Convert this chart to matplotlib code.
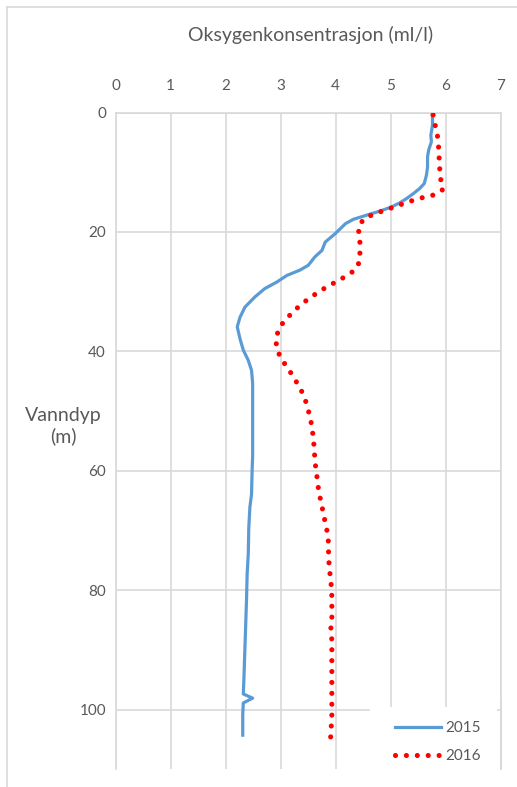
import matplotlib
matplotlib.use("Agg")
import matplotlib.pyplot as plt
from matplotlib.lines import Line2D
from matplotlib.patches import Rectangle

plt.rcParams['font.family'] = ['Lato', 'DejaVu Sans']

# ---- data ----
x_ticks = [0, 1, 2, 3, 4, 5, 6, 7]
y_ticks = [0, 20, 40, 60, 80, 100]
series_names = ["2015", "2016"]

depth2015 = [0.4, 2.1, 3.8, 4.9, 6.3, 7.4, 9.1, 10.5, 11.9, 12.7, 13.6, 14.4, 15.1, 15.8, 16.5, 17.2,
             17.9, 18.6, 20.3, 21.7, 23.1, 24.2, 25.6, 26.4, 27.3, 28.4, 29.5, 30.9, 32.6, 34.3, 35.9, 37.9,
             39.8, 41.5, 43.2, 45.4, 51.6, 57.5, 60.0, 63.9, 66.1, 69.5, 74.0, 77.3, 81.2, 84.0, 89.6, 95.2,
             97.4, 98.1, 98.9, 100.8, 104.3]
oxy2015 = [5.76, 5.76, 5.73, 5.74, 5.69, 5.67, 5.67, 5.65, 5.61, 5.53, 5.41, 5.29, 5.17, 5.02, 4.81, 4.56,
           4.32, 4.18, 3.99, 3.81, 3.75, 3.62, 3.50, 3.35, 3.11, 2.93, 2.71, 2.53, 2.35, 2.26, 2.21, 2.26,
           2.32, 2.41, 2.47, 2.49, 2.49, 2.49, 2.48, 2.47, 2.44, 2.42, 2.41, 2.39, 2.38, 2.37, 2.35, 2.33,
           2.32, 2.49, 2.32, 2.31, 2.31]

depth2016 = [0.4, 2.2, 3.9, 5.7, 7.5, 9.3, 11.2, 12.9, 13.8, 14.2, 14.7, 15.3, 15.9, 16.5, 17.1, 17.9,
             19.4, 21.2, 23.0, 24.9, 26.4, 27.4, 28.3, 29.2, 30.1, 31.2, 32.2, 33.5, 34.7, 36.2, 37.9, 39.6,
             41.3, 42.8, 44.3, 45.8, 47.4, 49.1, 50.9, 52.7, 54.4, 56.2, 58.0, 59.8, 61.7, 63.4, 65.1, 66.9,
             68.7, 70.4, 72.2, 74.0, 75.8, 77.6, 79.3, 81.1, 83.0, 84.8, 86.6, 88.4, 90.2, 91.9, 93.7, 95.5,
             97.3, 99.1, 100.9, 102.7, 104.5, 106.2]
oxy2016 = [5.77, 5.81, 5.85, 5.87, 5.88, 5.89, 5.91, 5.95, 5.79, 5.60, 5.41, 5.22, 5.04, 4.85, 4.67, 4.50,
           4.41, 4.44, 4.44, 4.44, 4.35, 4.19, 4.02, 3.84, 3.68, 3.51, 3.36, 3.22, 3.08, 2.97, 2.91, 2.93,
           3.01, 3.13, 3.23, 3.33, 3.42, 3.48, 3.53, 3.57, 3.59, 3.61, 3.62, 3.64, 3.67, 3.69, 3.73, 3.77,
           3.81, 3.85, 3.87, 3.87, 3.88, 3.90, 3.92, 3.93, 3.93, 3.93, 3.91, 3.93, 3.93, 3.93, 3.93, 3.93,
           3.93, 3.93, 3.93, 3.92, 3.91, 3.88]

title = "Oksygenkonsentrasjon (ml/l)"
ylabel = "Vanndyp\n(m)"

# ---- figure ----
W, H = 517, 787
fig = plt.figure(figsize=(W / 100, H / 100), dpi=100)
fig.patch.set_facecolor('white')

ax_l, ax_r, ax_t, ax_b = 115.7, 500.7, 112.5, 769.2
ax = fig.add_axes([ax_l / W, 1 - ax_b / H, (ax_r - ax_l) / W, (ax_b - ax_t) / H])

grid_c = '#D9D9D9'
text_c = '#595959'

l1, = ax.plot(oxy2015, depth2015, color='#5B9BD5', lw=2.3, solid_joinstyle='round',
              label=series_names[0], zorder=3)
l2, = ax.plot(oxy2016, depth2016, color='#FF0000', lw=3.7, linestyle=(0, (0.001, 2.12)),
              dash_capstyle='round', label=series_names[1], zorder=4)

ax.set_xlim(0, 7)
ax.set_ylim(110, 0)
ax.set_xticks(x_ticks)
ax.set_yticks(y_ticks)
ax.xaxis.tick_top()
ax.tick_params(axis='both', length=0, labelsize=11, colors=text_c)
ax.tick_params(axis='x', pad=14)
ax.tick_params(axis='y', pad=7)
ax.grid(True, color=grid_c, lw=1.2)
ax.set_axisbelow(True)
for s in ['bottom']:
    ax.spines[s].set_visible(False)
for s in ['left', 'top', 'right']:
    ax.spines[s].set_color(grid_c)
    ax.spines[s].set_linewidth(1.2)

fig.text(311 / W, 1 - 35 / H, title, ha='center', va='center', fontsize=14, color=text_c)
fig.text(63 / W, 1 - 426 / H, ylabel, ha='center', va='center', fontsize=14, color=text_c,
         linespacing=1.25)

# chart border
fig.add_artist(Line2D([7 / W, 7 / W], [0, 1 - 7 / H], color=grid_c, lw=1.2, transform=fig.transFigure))
fig.add_artist(Line2D([7 / W, 1], [1 - 7 / H, 1 - 7 / H], color=grid_c, lw=1.2, transform=fig.transFigure))

# legend box (white, covering gridlines)
fig.add_artist(Rectangle((370 / W, 0), (497 - 370) / W, 1 - 707 / H, transform=fig.transFigure,
                         facecolor='white', edgecolor='none', zorder=1.5))
# right edge line of plot area stays visible next to the legend
fig.add_artist(Line2D([ax_r / W, ax_r / W], [1 - ax_b / H, 1 - 700 / H], color=grid_c, lw=1.2,
                      transform=fig.transFigure, zorder=1.6))

leg = fig.legend(handles=[l1, l2], loc='upper left', bbox_to_anchor=(386 / W, 1 - 712 / H),
                 bbox_transform=fig.transFigure, fontsize=11, frameon=False,
                 handlelength=3.0, handletextpad=0.3, labelspacing=0.9,
                 borderpad=0.6, borderaxespad=0)
for t in leg.get_texts():
    t.set_color(text_c)
leg.set_zorder(2)

fig.savefig('out.png', dpi=100, facecolor='white')
